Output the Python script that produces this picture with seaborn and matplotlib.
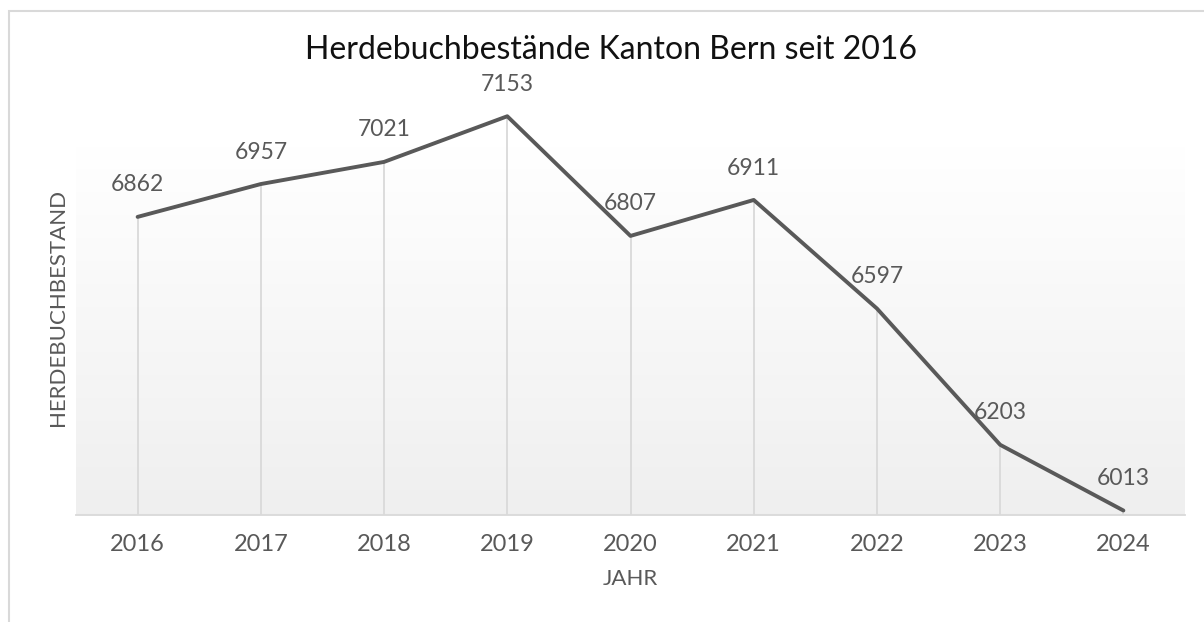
import numpy as np
import pandas as pd
import seaborn as sns
import matplotlib.pyplot as plt
from matplotlib.patches import Rectangle

# data
years = [2016, 2017, 2018, 2019, 2020, 2021, 2022, 2023, 2024]
bestand = [6862, 6957, 7021, 7153, 6807, 6911, 6597, 6203, 6013]

df = pd.DataFrame({"Jahr": years, "Bestand": bestand})

sns.set_theme(style="white")
plt.rcParams["font.family"] = ["Lato", "DejaVu Sans"]

W, H = 1204, 622
fig = plt.figure(figsize=(W / 100, H / 100), dpi=100)
# plot area in pixels: x 76..1185, y 100..515 (from top)
ax = fig.add_axes([76 / W, (H - 515) / H, 1109 / W, 415 / H])

ymin, ymax = 6000, 7200

# soft vertical gradient behind the plot (white at top -> light gray)
grad = np.linspace(1.0, 0.0, 256).reshape(-1, 1)
top_c = np.array([1.0, 1.0, 1.0])
bot_c = np.array([0.937, 0.937, 0.937])
img = grad[..., None] * top_c + (1 - grad[..., None]) * bot_c
ax.imshow(img, extent=[2015.5, 2024.5, ymin, 7065], aspect="auto", zorder=0)
ax.set_ylim(ymin, ymax)
ax.set_xlim(2015.5, 2024.5)

# drop lines
ax.vlines(df["Jahr"], ymin, df["Bestand"], color="#d9d9d9", lw=1.3, zorder=1)

sns.lineplot(data=df, x="Jahr", y="Bestand", ax=ax, color="#595959",
             lw=2.8, zorder=3, clip_on=False)

for x, y in zip(years, bestand):
    ax.annotate(str(y), (x, y), xytext=(0, 23), textcoords="offset points",
                ha="center", va="center", fontsize=16.5, color="#595959",
                zorder=4, annotation_clip=False)

for s in ["top", "right", "left"]:
    ax.spines[s].set_visible(False)
ax.spines["bottom"].set_color("#d9d9d9")
ax.spines["bottom"].set_linewidth(1.3)

ax.set_yticks([])
ax.set_xticks(years)
ax.set_xticklabels([str(y) for y in years], fontsize=17, color="#595959")
ax.tick_params(axis="x", length=0, pad=14)
ax.set_xlabel("JAHR", fontsize=16, color="#595959", labelpad=10)
ax.set_ylabel("")

fig.text(58 / W, 1 - 307 / H, "HERDEBUCHBESTAND", rotation=90, ha="center",
         va="center", fontsize=16, color="#595959")
fig.text(611 / W, 1 - 50 / H, "Herdebuchbestände Kanton Bern seit 2016",
         ha="center", va="center", fontsize=23, color="#111111")

# chart-area border (only left and top visible in the crop)
fig.patches.append(Rectangle((9 / W, -0.1), 1.2, 1 - 11 / H + 0.1,
                             transform=fig.transFigure, fill=False,
                             edgecolor="#d9d9d9", lw=1.5))

fig.savefig("out.png", dpi=100)
